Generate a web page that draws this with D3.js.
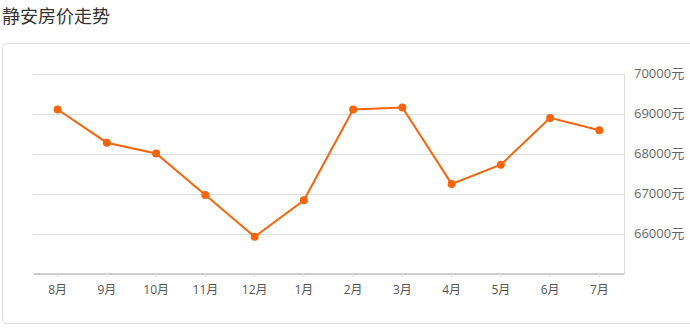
<!DOCTYPE html>
<html>
<head>
<meta charset="utf-8">
<script src="https://d3js.org/d3.v7.min.js"></script>
<style>
    body { margin: 0; background: #fff; }
    .title { font-family: "Noto Sans CJK SC", sans-serif; font-size: 18px; fill: #333; }
    .axis text { font-family: "Open Sans", "Noto Sans CJK SC", sans-serif; fill: #666; }
    .grid line { stroke: #ddd; stroke-width: 1px; }
</style>
</head>
<body>
<script>
    // data
    let months = ["8月", "9月", "10月", "11月", "12月", "1月", "2月", "3月", "4月", "5月", "6月", "7月"];
    let prices = [69100, 68270, 68000, 66960, 65920, 66830, 69100, 69150, 67240, 67720, 68890, 68580];
    let yTicks = [66000, 67000, 68000, 69000, 70000];

    let w = 690, h = 328;
    let plotLeft = 33, plotRight = 624, plotTop = 73.5, plotBottom = 273.5;

    let svg = d3.select("body").append("svg")
        .attr("width", w)
        .attr("height", h);

    svg.append("text")
        .attr("class", "title")
        .attr("x", 2)
        .attr("y", 23)
        .text("静安房价走势");

    // outer box
    svg.append("rect")
        .attr("x", 2.5).attr("y", 43.5)
        .attr("width", 700).attr("height", 280)
        .attr("rx", 4)
        .attr("fill", "none")
        .attr("stroke", "#ddd");

    let x = d3.scaleBand()
        .domain(months)
        .range([plotLeft, plotRight]);

    let y = d3.scaleLinear()
        .domain([65000, 70000])
        .range([plotBottom, plotTop]);

    // grid lines
    svg.append("g")
        .attr("class", "grid")
        .selectAll("line")
        .data(yTicks)
        .join("line")
        .attr("x1", plotLeft).attr("x2", plotRight)
        .attr("y1", d => Math.round(y(d)) + 0.5)
        .attr("y2", d => Math.round(y(d)) + 0.5);

    svg.append("line")
        .attr("x1", plotRight + 0.5).attr("x2", plotRight + 0.5)
        .attr("y1", plotTop).attr("y2", plotBottom)
        .attr("stroke", "#ddd");

    // y axis on the right
    let yAxis = d3.axisRight(y)
        .tickValues(yTicks)
        .tickSize(0)
        .tickPadding(10)
        .tickFormat(d => d + "元");

    svg.append("g")
        .attr("class", "axis")
        .attr("transform", "translate(" + plotRight + ",0)")
        .call(yAxis)
        .call(g => g.select(".domain").remove())
        .selectAll("text")
        .style("font-size", "13px");

    // x axis
    let xAxis = d3.axisBottom(x)
        .tickSize(4)
        .tickPadding(8)
        .tickSizeOuter(0);

    let gx = svg.append("g")
        .attr("class", "axis")
        .attr("transform", "translate(0," + plotBottom + ")")
        .call(xAxis);
    gx.select(".domain").attr("stroke", "#ccc").attr("stroke-width", 2);
    gx.selectAll(".tick line").attr("stroke", "#ddd");
    gx.selectAll("text").style("font-size", "12px").style("fill", "#555");

    // line and points
    let line = d3.line()
        .x((d, i) => x(months[i]) + x.bandwidth() / 2)
        .y(d => y(d));

    svg.append("path")
        .datum(prices)
        .attr("d", line)
        .attr("fill", "none")
        .attr("stroke", "#f4650d")
        .attr("stroke-width", 2);

    svg.selectAll("circle")
        .data(prices)
        .join("circle")
        .attr("cx", (d, i) => x(months[i]) + x.bandwidth() / 2)
        .attr("cy", d => y(d))
        .attr("r", 4)
        .attr("fill", "#f4650d");
</script>
</body>
</html>
